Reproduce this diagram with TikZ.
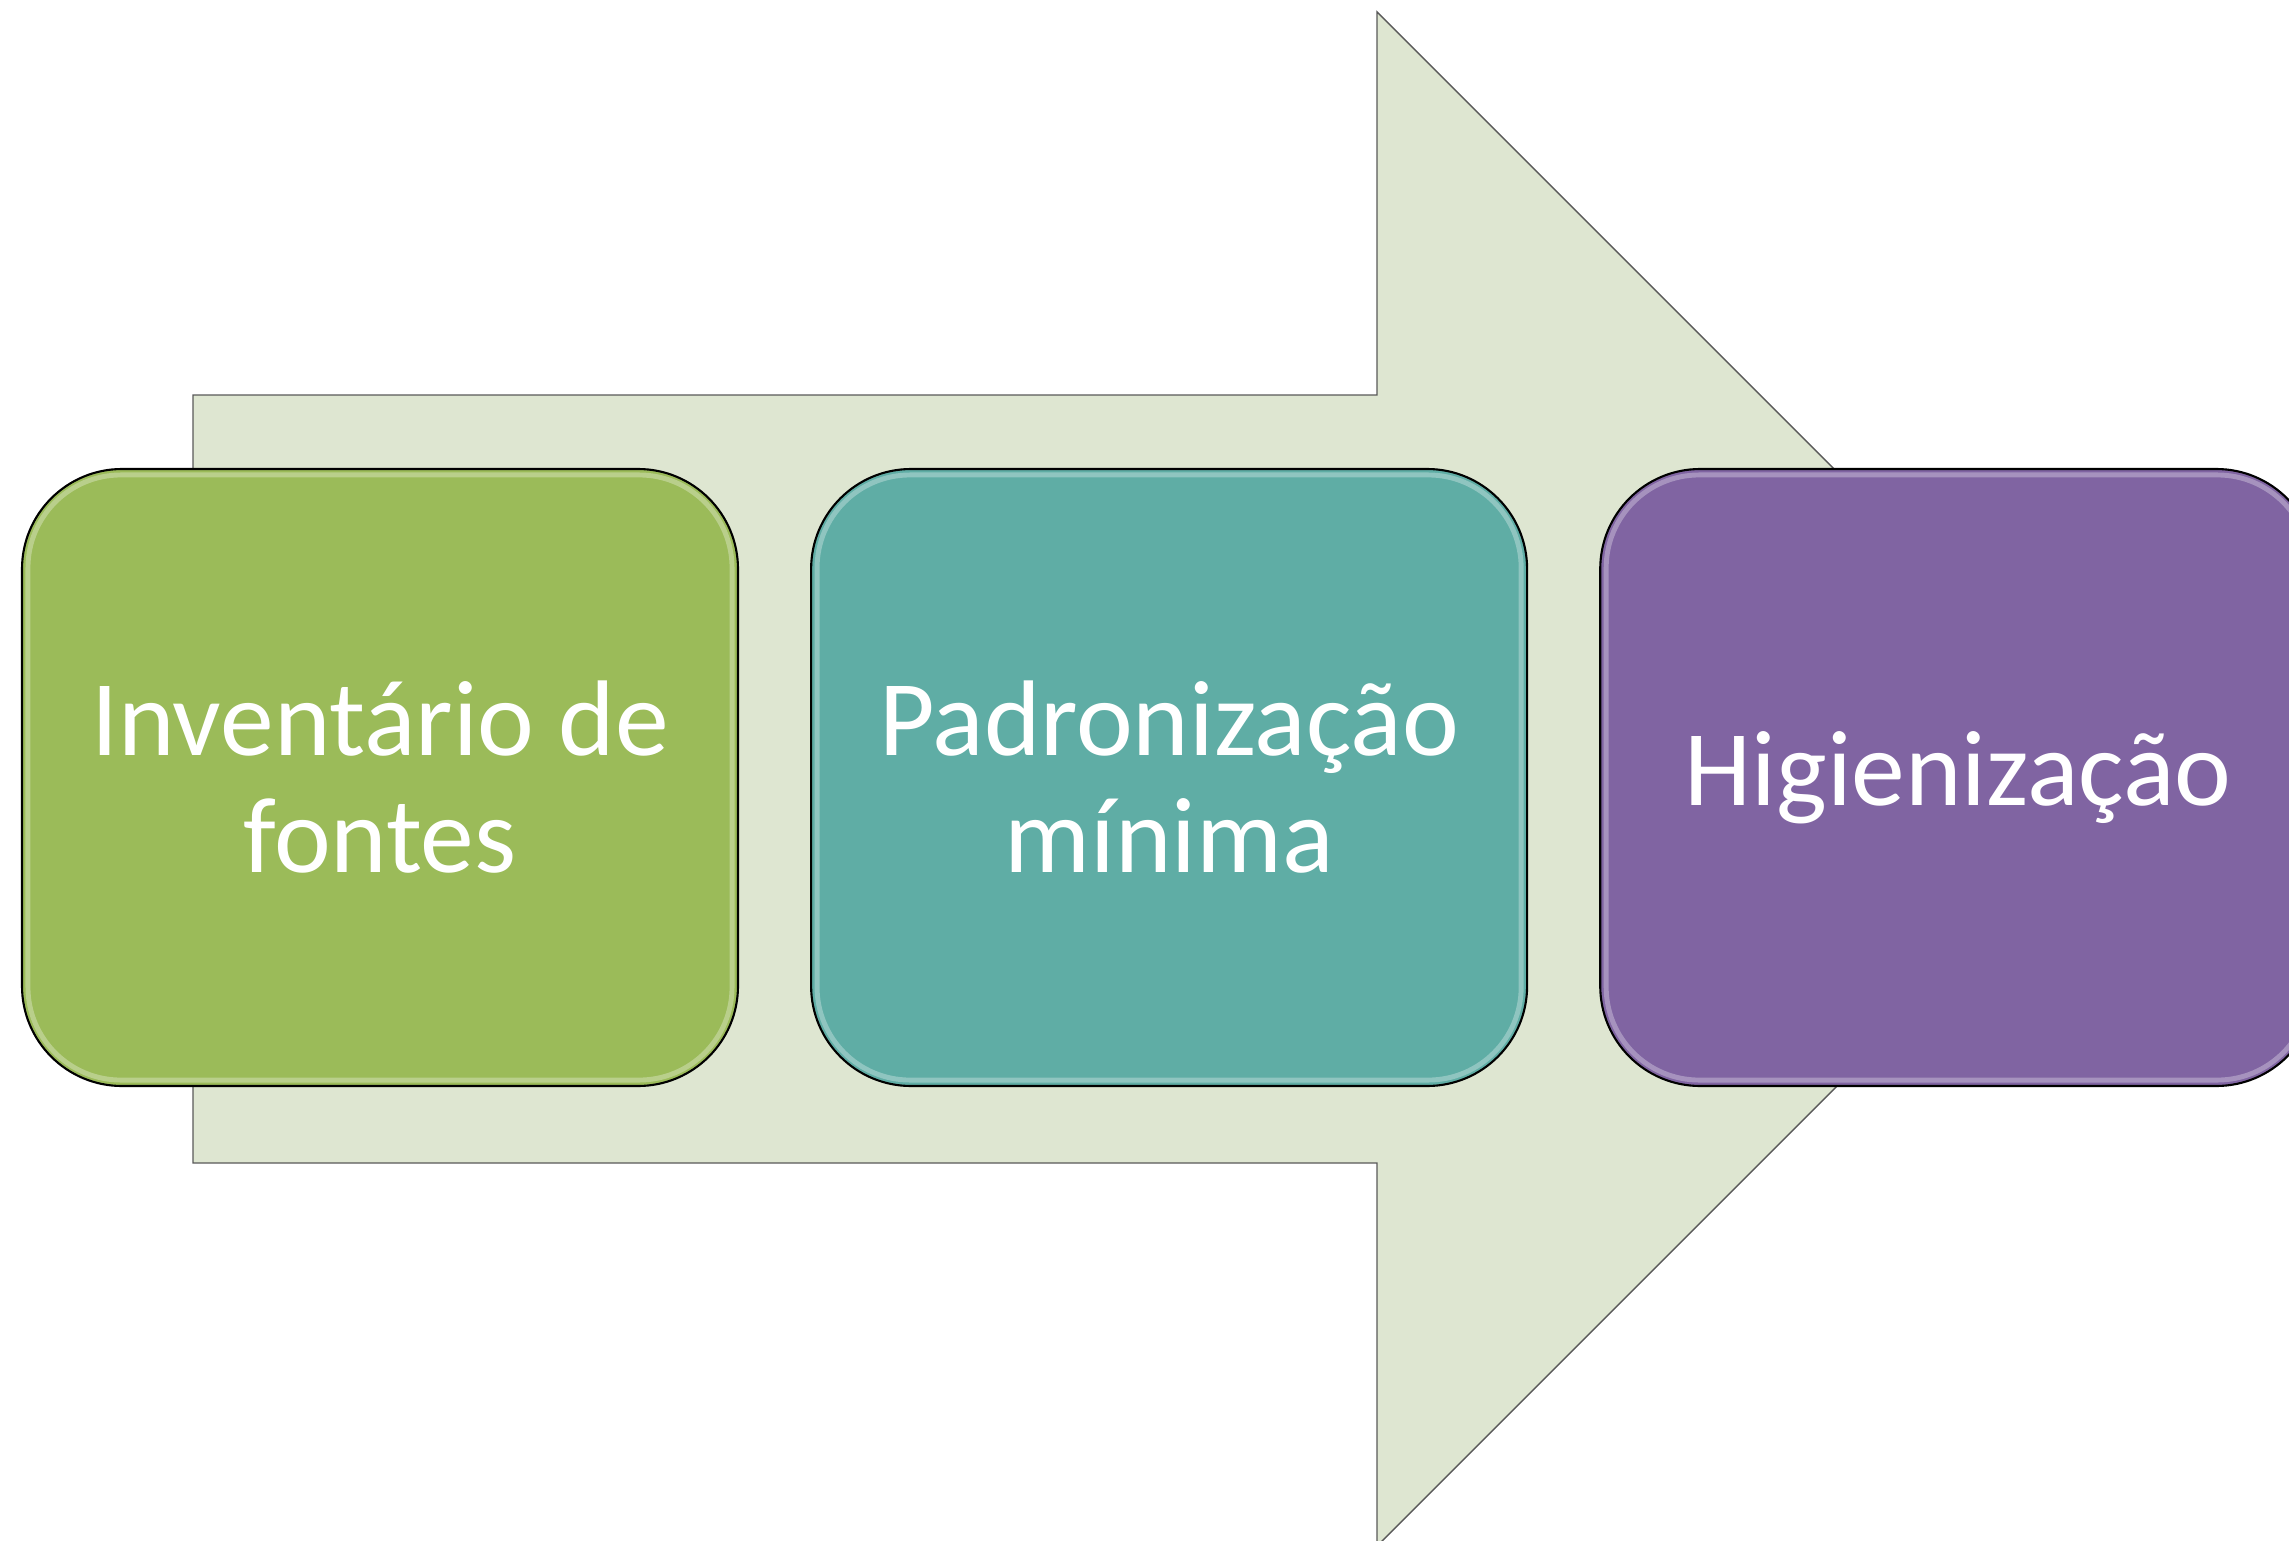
\documentclass[tikz,border=0pt]{standalone}
\usepackage{fontspec}
\setmainfont{Carlito}
\usetikzlibrary{positioning}
\definecolor{arrowfill}{HTML}{DEE6D1}
\definecolor{stagegreen}{HTML}{9BBB59}
\definecolor{stageteal}{HTML}{5FADA5}
\definecolor{stagepurple}{HTML}{8064A2}
\tikzset{
  stage/.style={draw=black, line width=0.6pt, rounded corners=1cm,
    minimum width=7.16cm, minimum height=6.17cm, inner sep=0pt,
    text=white, align=center, font=\fontsize{30.6}{33.3}\selectfont},
  gloss/.style={white, opacity=0.3, line width=1.4pt, rounded corners=0.93cm},
}

\begin{document}
\begin{tikzpicture}
  \useasboundingbox (0,0) rectangle (22.89,15.40);
  \clip (0,0) rectangle (22.89,15.40);
  % big arrow behind the stages
  \draw[fill=arrowfill, draw=black!65, line width=0.4pt]
    (1.93,3.77) -- (1.93,11.45) -- (13.77,11.45) -- (13.77,15.28)
    -- (21.44,7.61) -- (13.77,-0.06) -- (13.77,3.77) -- cycle;
  \node[stage, fill=stagegreen] (inventario) at (3.80,7.625) {Inventário de\\fontes};
  \node[stage, fill=stageteal, right=0.71cm of inventario] (padronizacao) {Padronização\\mínima};
  \node[stage, fill=stagepurple, right=0.71cm of padronizacao] (higienizacao) {Higienização};
  % light rim inside each stage
  \foreach \s in {inventario,padronizacao,higienizacao}
    \draw[gloss] ([shift={(0.07,-0.07)}]\s.north west) rectangle ([shift={(-0.07,0.07)}]\s.south east);
\end{tikzpicture}
\end{document}
